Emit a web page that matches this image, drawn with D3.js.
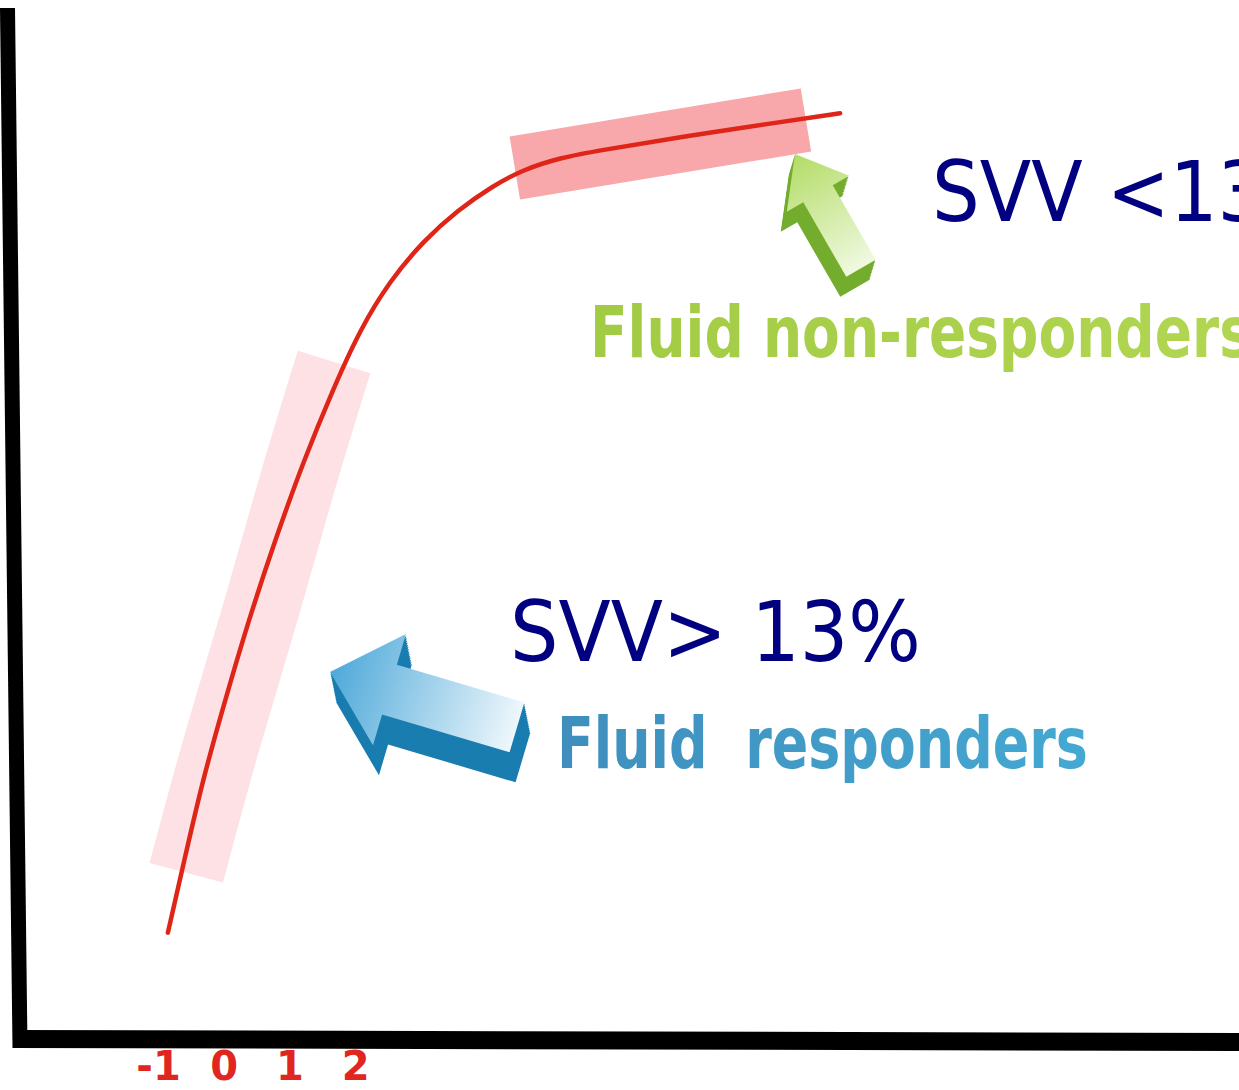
<!DOCTYPE html>
<html>
<head>
<meta charset="utf-8">
<script src="https://cdn.jsdelivr.net/npm/d3@7"></script>
<style>
  html, body { margin: 0; padding: 0; background: #ffffff; overflow: hidden; }
  svg { display: block; }
</style>
</head>
<body>
<svg id="chart" width="1239" height="1090"></svg>
<script>
// ---- data ----
const xTicks = [-1, 0, 1, 2];
// Frank-Starling curve (preload vs stroke volume, arbitrary units)
const curveX = [-0.85, -0.60, -0.32, 0.02, 0.38, 0.78, 1.22, 1.66, 2.07, 2.53, 3.05, 3.56, 4.08, 4.54, 5.12, 5.73, 6.95, 8.31, 9.38];
const curveY = [10.4, 17.4, 25.2, 32.9, 40.7, 48.4, 56.2, 63.0, 68.8, 73.6, 77.5, 80.4, 82.7, 84.3, 85.5, 86.2, 87.5, 88.8, 89.8];
// steep (responder) zone band centre line
const bandLowX = [-0.57, -0.03, 0.58, 1.10, 1.68];
const bandLowY = [16.2, 29.1, 41.7, 53.8, 65.7];
// flat (non-responder) zone band centre line
const bandHighX = [4.43, 8.86];
const bandHighY = [84.5, 89.15];
const labelTexts = ["SVV <13%", "SVV> 13%", "Fluid non-responders", "Fluid  responders"];

// ---- scales ----
const W = 1239, H = 1090;
const x = d3.scaleLinear().domain([-3.1, 15.45]).range([20, 1239]);
const y = d3.scaleLinear().domain([0, 100]).range([1040, 8]);

const svg = d3.select("#chart");
const defs = svg.append("defs");

svg.append("rect").attr("width", W).attr("height", H).attr("fill", "#ffffff");

// bands
svg.append("path")
  .datum(d3.zip(bandLowX, bandLowY))
  .attr("d", d3.line().x(d => x(d[0])).y(d => y(d[1])).curve(d3.curveBasis))
  .attr("fill", "none")
  .attr("stroke", "#fde1e4")
  .attr("stroke-width", 76)
  .attr("stroke-linecap", "butt");

svg.append("path")
  .datum(d3.zip(bandHighX, bandHighY))
  .attr("d", d3.line().x(d => x(d[0])).y(d => y(d[1])))
  .attr("fill", "none")
  .attr("stroke", "#f8a7aa")
  .attr("stroke-width", 64)
  .attr("stroke-linecap", "butt");

// curve
svg.append("path")
  .datum(d3.zip(curveX, curveY))
  .attr("d", d3.line().x(d => x(d[0])).y(d => y(d[1])).curve(d3.curveBasis))
  .attr("fill", "none")
  .attr("stroke", "#df2518")
  .attr("stroke-width", 4.5)
  .attr("stroke-linecap", "round");

// axes lines
svg.append("line")
  .attr("x1", 7.5).attr("y1", y.range()[1])
  .attr("x2", 20).attr("y2", y.range()[0] + 8)
  .attr("stroke", "#000").attr("stroke-width", 15);
svg.append("line")
  .attr("x1", 13).attr("y1", y.range()[0] - 1)
  .attr("x2", x.range()[1] + 2).attr("y2", y.range()[0] + 2)
  .attr("stroke", "#000").attr("stroke-width", 18);

// x ticks
const xAxis = d3.axisBottom(x).tickValues(xTicks).tickSize(0).tickFormat(d => String(d));
const gx = svg.append("g").attr("transform", `translate(0,${y.range()[0]})`).call(xAxis);
gx.select(".domain").remove();
gx.selectAll("text")
  .attr("y", 40).attr("dy", 0)
  .attr("fill", "#e0261e")
  .style("font-family", "'DejaVu Sans', sans-serif")
  .style("font-weight", "bold")
  .style("font-size", "40px");

// ---- 3D arrows ----
function arrow3d(id, tip, angleDeg, L, s, h, hl, depth, faceHead, faceTail, side) {
  const pts = [[0, -s], [L - hl, -s], [L - hl, -h], [L, 0], [L - hl, h], [L - hl, s], [0, s]];
  const grad = defs.append("linearGradient").attr("id", id)
    .attr("gradientUnits", "userSpaceOnUse")
    .attr("x1", L).attr("y1", 0).attr("x2", 0).attr("y2", 0);
  grad.append("stop").attr("offset", 0).attr("stop-color", faceHead);
  grad.append("stop").attr("offset", 1).attr("stop-color", faceTail);
  const g = svg.append("g");
  const steps = 14;
  for (let i = steps; i >= 1; i--) {
    const t = i / steps;
    g.append("g")
      .attr("transform", `translate(${tip[0] + depth[0] * t},${tip[1] + depth[1] * t}) rotate(${angleDeg}) translate(${-L},0)`)
      .append("polygon")
      .attr("points", pts.map(p => p.join(",")).join(" "))
      .attr("fill", side);
  }
  g.append("g")
    .attr("transform", `translate(${tip[0]},${tip[1]}) rotate(${angleDeg}) translate(${-L},0)`)
    .append("polygon")
    .attr("points", pts.map(p => p.join(",")).join(" "))
    .attr("fill", `url(#${id})`);
}

arrow3d("gBlue", [330, 672], 196.5, 195, 26, 58, 62, [6, 30], "#4ea9d9", "#eef7fc", "#1a7db0");
arrow3d("gGreen", [795, 154], 240, 132, 17, 36, 46, [-6, 20], "#b3dc66", "#f0f9e0", "#74ad2e");

// ---- texts ----
const gradB = defs.append("linearGradient").attr("id", "txtBlue").attr("x1", 0).attr("x2", 1);
gradB.append("stop").attr("offset", 0).attr("stop-color", "#3f8ebd");
gradB.append("stop").attr("offset", 1).attr("stop-color", "#44a9d2");
const gradG = defs.append("linearGradient").attr("id", "txtGreen").attr("x1", 0).attr("x2", 1);
gradG.append("stop").attr("offset", 0).attr("stop-color", "#a2cb44");
gradG.append("stop").attr("offset", 1).attr("stop-color", "#b2d652");

// text squeezed horizontally to a target width via a scale transform
function squeezedText(txt, px, py, targetW, size, weight, fill) {
  const g = svg.append("g");
  const t = g.append("text")
    .attr("x", 0).attr("y", 0)
    .attr("fill", fill)
    .style("white-space", "pre")
    .style("font-family", "'DejaVu Sans', Verdana, sans-serif")
    .style("font-weight", weight)
    .style("font-size", size + "px")
    .text(txt);
  const natural = t.node().getComputedTextLength();
  g.attr("transform", `translate(${px},${py}) scale(${targetW / natural},1)`);
}
squeezedText(labelTexts[0], 932, 221, 405, 84, "normal", "#000080");
squeezedText(labelTexts[1], 510, 661, 411, 84, "normal", "#000080");
squeezedText(labelTexts[2], 590, 357, 662, 72, "bold", "url(#txtGreen)");
squeezedText(labelTexts[3], 557, 768, 531, 72, "bold", "url(#txtBlue)");
</script>
</body>
</html>
